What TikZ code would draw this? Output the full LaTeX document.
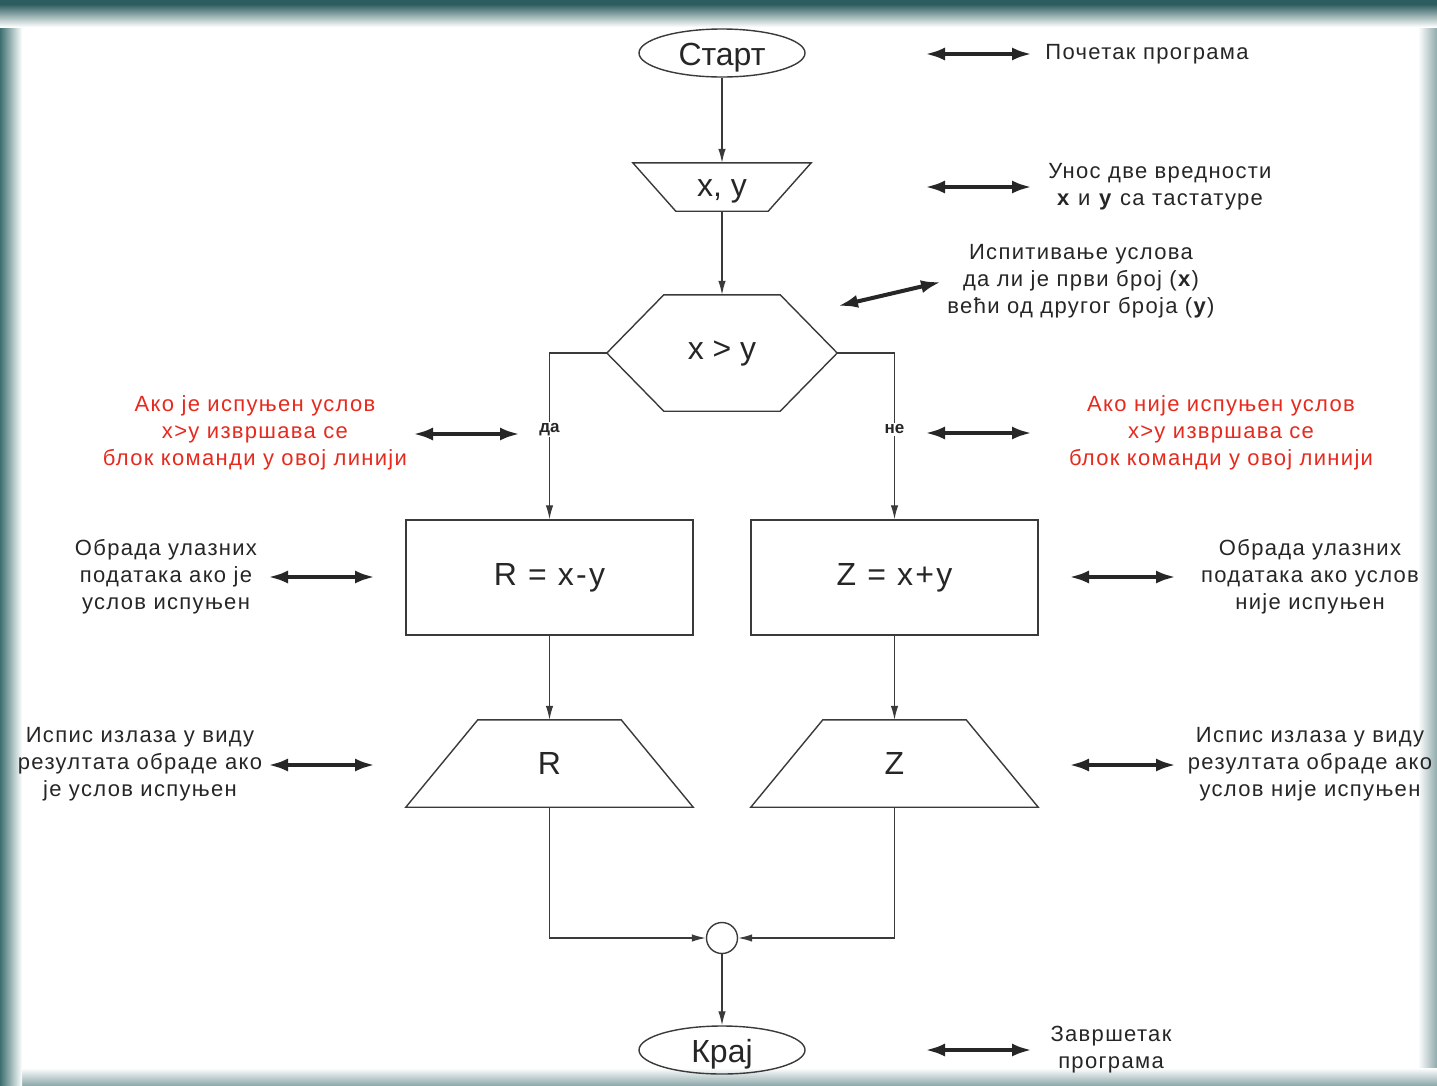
\documentclass[tikz,border=0pt]{standalone}
\usepackage{fontspec}
\setmainfont{Liberation Sans}
\newfontfamily\notefont[LetterSpace=6]{Liberation Sans}
\newfontfamily\wideboxfont[LetterSpace=7]{Liberation Sans}
\usetikzlibrary{shapes.geometric,arrows.meta,calc}
\definecolor{lineg}{HTML}{3A3A3A}
\definecolor{annred}{HTML}{E62A1E}
\definecolor{framedark}{HTML}{2D5D5F}
\definecolor{frameleft}{HTML}{3E6F70}
\definecolor{framelight}{HTML}{8FAAAC}
\begin{document}
\begin{tikzpicture}[x=1pt,y=-1pt,
  shp/.style={draw=lineg, line width=1.4pt, inner sep=0pt, font=\fontsize{32}{36}\selectfont, text=black!85},
  hid/.style={inner sep=0pt, font=\fontsize{32}{36}\selectfont, text=black!85},
  flow/.style={draw=lineg, line width=1.3pt, -{Latex[length=14pt,width=7.5pt]}},
  plain/.style={draw=lineg, line width=1.4pt},
  dbl/.style={draw=black!85, line width=4pt, {Latex[length=20pt,width=13pt]}-{Latex[length=20pt,width=13pt]}},
  note/.style={align=center, font=\notefont\fontsize{22}{27}\selectfont, text=black!85, inner sep=0pt},
  rednote/.style={note, text=annred},
  yn/.style={fill=white, inner sep=1.5pt, font=\bfseries\fontsize{17}{20}\selectfont, text=black!85}
]
\useasboundingbox (0,0) rectangle (1437,1085);
% frame
\fill[white] (0,0) rectangle (1437,1085);
\shade[left color=white, right color=framelight] (1418,0) rectangle (1437,1085);
\shade[top color=white, bottom color=framelight] (0,1068) rectangle (1437,1085);
\shade[left color=frameleft, right color=white] (0,0) rectangle (22,1085);
\fill[framedark] (0,0) rectangle (1437,4);
\shade[top color=framedark, bottom color=white] (0,4) rectangle (1437,27);

% flow nodes
\node[shp, ellipse, minimum width=166, minimum height=48, text height=24pt, text depth=0pt] (start) at (722,53) {Старт};
\node[hid, minimum width=178, minimum height=48, text height=19pt, text depth=0pt] (inp) at (722,187) {x, y};
\draw[plain] (inp.north west) -- (inp.north east) -- ($(inp.south east)+(-43,0)$) -- ($(inp.south west)+(43,0)$) -- cycle;
\node[hid, minimum width=230, minimum height=116] (dec) at (722,353) {x > y};
\draw[plain] (dec.west) -- ($(dec.north west)+(57,0)$) -- ($(dec.north east)+(-57,0)$) -- (dec.east) -- ($(dec.south east)+(-57,0)$) -- ($(dec.south west)+(57,0)$) -- cycle;
\node[shp, rectangle, minimum width=287, minimum height=115] (rbox) at (549.5,577.5) {\wideboxfont R = x-y};
\node[shp, rectangle, minimum width=287, minimum height=115] (zbox) at (894.5,577.5) {\wideboxfont Z = x+y};
\node[hid, minimum width=287, minimum height=87] (rout) at (549.5,763.5) {R};
\draw[plain] ($(rout.north west)+(72,0)$) -- ($(rout.north east)+(-72,0)$) -- (rout.south east) -- (rout.south west) -- cycle;
\node[hid, minimum width=287, minimum height=87] (zout) at (894.5,763.5) {Z};
\draw[plain] ($(zout.north west)+(72,0)$) -- ($(zout.north east)+(-72,0)$) -- (zout.south east) -- (zout.south west) -- cycle;
\node[shp, circle, minimum size=31] (join) at (722,938) {};
\node[shp, ellipse, minimum width=166, minimum height=48, text height=24pt, text depth=0pt] (end) at (722,1050) {Крај};

% connectors
\draw[flow] (start.south) -- (inp.north);
\draw[flow] (inp.south) -- (dec.north);
\draw[flow] (dec.west) -| node[yn, pos=0.73] (da) {да} (rbox.north);
\draw[flow] (dec.east) -| node[yn, pos=0.73] (ne) {не} (zbox.north);
\draw[flow] (rbox.south) -- (rout.north);
\draw[flow] (zbox.south) -- (zout.north);
\draw[flow] (rout.south) |- (join.west);
\draw[flow] (zout.south) |- (join.east);
\draw[flow] (join.south) -- (end.north);

% annotations
\node[note] (n1) at (1147,54) {Почетак програма};
\coordinate (a1l) at (925,54); \coordinate (a1r) at (1032,54);
\draw[dbl] (a1l) -- (a1r);

\node[note] (n2) at (1160,187) {Унос две вредности\\\textbf{х} и \textbf{у} са тастатуре};
\coordinate (a2l) at (925,187); \coordinate (a2r) at (1032,187);
\draw[dbl] (a2l) -- (a2r);

\node[note] (n3) at (1081,281) {Испитивање услова\\да ли је први број (\textbf{x})\\већи од другог броја (\textbf{y})};
\coordinate (a3l) at (838,306); \coordinate (a3r) at (941,282);
\draw[dbl] (a3l) -- (a3r);

\node[rednote] (n4) at (255,433) {Ако је испуњен услов\\x>y извршава се\\блок команди у овој линији};
\coordinate (a4l) at (413,434); \coordinate (a4r) at (520,434);
\draw[dbl] (a4l) -- (a4r);

\node[rednote] (n5) at (1221,433) {Ако није испуњен услов\\x>y извршава се\\блок команди у овој линији};
\coordinate (a5l) at (925,433); \coordinate (a5r) at (1032,433);
\draw[dbl] (a5l) -- (a5r);

\node[note] (n6) at (166,577) {Обрада улазних\\података ако је\\услов испуњен};
\coordinate (a6l) at (268,577); \coordinate (a6r) at (375,577);
\draw[dbl] (a6l) -- (a6r);

\node[note] (n7) at (1310,577) {Обрада улазних\\података ако услов\\није испуњен};
\coordinate (a7l) at (1069,577); \coordinate (a7r) at (1176,577);
\draw[dbl] (a7l) -- (a7r);

\node[note] (n8) at (140,764) {Испис излаза у виду\\резултата обраде ако\\је услов испуњен};
\coordinate (a8l) at (268,765); \coordinate (a8r) at (375,765);
\draw[dbl] (a8l) -- (a8r);

\node[note] (n9) at (1310,764) {Испис излаза у виду\\резултата обраде ако\\услов није испуњен};
\coordinate (a9l) at (1069,765); \coordinate (a9r) at (1176,765);
\draw[dbl] (a9l) -- (a9r);

\node[note] (n10) at (1111,1050) {Завршетак\\програма};
\coordinate (a10l) at (925,1050); \coordinate (a10r) at (1032,1050);
\draw[dbl] (a10l) -- (a10r);
\end{tikzpicture}
\end{document}
